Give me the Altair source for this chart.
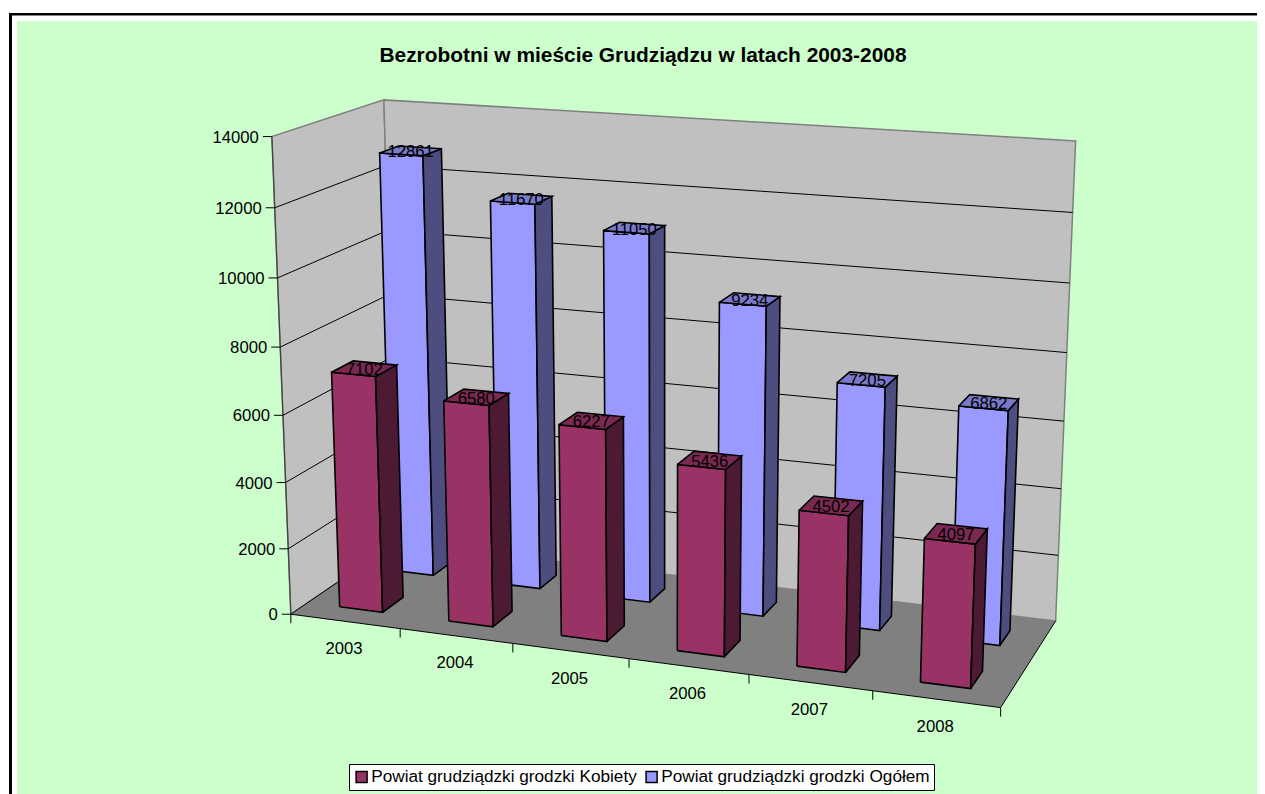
import altair as alt
import numpy as np
import pandas as pd

TITLE = "Bezrobotni w mieście Grudziądzu w latach 2003-2008"
years = ["2003", "2004", "2005", "2006", "2007", "2008"]
kobiety = [7102, 6580, 6227, 5436, 4502, 4097]
ogolem = [12861, 11670, 11050, 9234, 7205, 6862]
series_names = ["Powiat grudziądzki grodzki Kobiety", "Powiat grudziądzki grodzki Ogółem"]
y_ticks = [0, 2000, 4000, 6000, 8000, 10000, 12000, 14000]
Y_MAX = 14000

W, H = 1249, 786
OX, OY = 8, 8
FONT = "Liberation Sans"

# --- 3D camera calibration: (category, depth, value share) -> picture position
calib = [
    ((0, 0, 0), (291, 614)), ((6, 0, 0), (1001, 707)), ((6, 1, 0), (1056, 620)), ((0, 1, 0), (397, 542)),
    ((0, 0, 1), (272, 137)), ((0, 1, 1), (383, 100)), ((6, 1, 1), (1076, 141)),
    ((1, 0, 0), (399, 629)), ((2, 0, 0), (512, 644)), ((3, 0, 0), (630, 660)), ((4, 0, 0), (749, 675)), ((5, 0, 0), (872, 690)),
    ((0, 0, 4/7), (281, 346)), ((0, 0, 2/7), (286, 482)), ((6, 1, 2/7), (1061, 489)), ((6, 1, 1/7), (1058, 556)),
]
A = []
for (a, b, c), (px, py) in calib:
    px, py = px / 1000, py / 1000
    A.append([a, b, c, 1, 0, 0, 0, 0, -px*a, -px*b, -px*c, -px])
    A.append([0, 0, 0, 0, a, b, c, 1, -py*a, -py*b, -py*c, -py])
P = np.linalg.svd(np.array(A, float))[2][-1].reshape(3, 4)


def project(a, b, c):
    r = P @ np.array([a, b, c, 1.0])
    return (1000 * r[0] / r[2], 1000 * r[1] / r[2])


Hf = P[:, [0, 1, 3]]
Hi = np.linalg.inv(Hf)


def unfloor(px, py):
    r = Hi @ np.array([px / 1000, py / 1000, 1.0])
    return r[0] / r[2], r[1] / r[2]


# bar footprint: gaps in category and depth
ku0 = unfloor(339, 607); ku1 = unfloor(382, 612); kb = unfloor(404, 597)
ku2 = unfloor(921, 682); ku3 = unfloor(971, 689); kb2 = unfloor(984, 672)
ou1 = unfloor(433, 575); ob = unfloor(448, 564); ou3 = unfloor(1001, 646); ob2 = unfloor(1012, 629)
gl = (ku0[0] + (ku2[0] - 5)) / 2
gr = (ku1[0] + (ku3[0] - 5) + ou1[0] + (ou3[0] - 5)) / 4
depth = {
    "k": ((ku0[1] + ku1[1] + ku2[1] + ku3[1]) / 4, (kb[1] + kb2[1]) / 2),
    "o": ((ou1[1] + ou3[1]) / 2, (ob[1] + ob2[1]) / 2),
}

rows = []
counter = [0]


def poly(pts, fill="none", stroke="none", sw=0.0, close=True, name=None):
    pid = name or f"p{counter[0]}_{len(rows)}"
    seq = list(pts) + ([pts[0]] if close else [])
    for px, py in seq:
        counter[0] += 1
        rows.append(dict(pid=pid, idx=counter[0], x=px, y=py, fill=fill, stroke=stroke, sw=sw))


BG = "#CCFFCC"
# page frame and chart area
poly([(17, 21), (1265, 21), (1265, 794), (17, 794)], fill=BG)
poly([(9, 13), (1265, 13), (1265, 15.5), (12, 15.5), (12, 794), (9, 794)], fill="#000000")

# floor and walls
GRAY = "#C0C0C0"
EDGE = "#808080"
poly([project(0, 0, 0), project(0, 1, 0), project(0, 1, 1), project(0, 0, 1)], fill=GRAY, stroke=EDGE, sw=1.5)
poly([project(0, 1, 0), project(6, 1, 0), project(6, 1, 1), project(0, 1, 1)], fill=GRAY, stroke=EDGE, sw=1.5)
poly([project(0, 0, 0), project(6, 0, 0), project(6, 1, 0), project(0, 1, 0)], fill=EDGE)
poly([project(0, 1, 0), project(0, 0, 0), project(6, 0, 0), project(6, 1, 0)], stroke="#000000", sw=1, close=False)
poly([project(0, 0, 0), project(0, 0, 1)], stroke="#404040", sw=1.2, close=False)

# gridlines and ticks
for t in y_ticks[1:-1]:
    s = t / Y_MAX
    poly([project(0, 0, s), project(0, 1, s), project(6, 1, s)], stroke="#000000", sw=1, close=False)
for t in y_ticks:
    s = t / Y_MAX
    fx, fy = project(0, 0, s)
    poly([(fx - 9, fy), (fx, fy)], stroke="#000000", sw=1, close=False)
for i in range(7):
    fx, fy = project(i, 0, 0)
    poly([(fx, fy), (fx, fy + 9)], stroke="#000000", sw=1, close=False)


def box(i, key, val, front, side, top):
    u0, u1 = i + gl, i + gr
    v0, v1 = depth[key]
    s = val / Y_MAX
    poly([project(u0, v0, 0), project(u1, v0, 0), project(u1, v0, s), project(u0, v0, s)], fill=front, stroke="#000000", sw=1.6)
    poly([project(u1, v0, 0), project(u1, v1, 0), project(u1, v1, s), project(u1, v0, s)], fill=side, stroke="#000000", sw=1.6)
    poly([project(u0, v0, s), project(u1, v0, s), project(u1, v1, s), project(u0, v1, s)], fill=top, stroke="#000000", sw=1.6)


labels = []
for i, v in enumerate(ogolem):
    box(i, "o", v, "#9999FF", "#4D4D80", "#7A7ACC")
for i, v in enumerate(kobiety):
    box(i, "k", v, "#993366", "#4D1A33", "#7A2952")
for key, vals in (("o", ogolem), ("k", kobiety)):
    v0, v1 = depth[key]
    for i, v in enumerate(vals):
        px, py = project(i + (gl + gr) / 2, (v0 + v1) / 2, v / Y_MAX)
        labels.append(dict(x=px, y=py + 1.5, t=str(v)))

ylab = []
for t in y_ticks:
    px, py = project(0, 0, t / Y_MAX)
    ylab.append(dict(x=px - 13, y=py + 1, t=str(t)))
xlab = []
for i, yr in enumerate(years):
    px, py = project(i + 0.5, 0, 0)
    xlab.append(dict(x=px - 1, y=py + 27.5, t=yr))

polys = pd.DataFrame(rows)
X = alt.X("x:Q", scale=alt.Scale(domain=[OX, OX + W], range=[0, W], nice=False, zero=False), axis=None)
Y = alt.Y("y:Q", scale=alt.Scale(domain=[OY, OY + H], range=[0, H], nice=False, zero=False), axis=None)

dummy = pd.DataFrame({"x": [400, 400], "y": [400, 400], "series": series_names})
legend_layer = alt.Chart(dummy).mark_square(size=1, opacity=1).encode(
    x=X, y=Y,
    color=alt.Color(
        "series:N",
        scale=alt.Scale(domain=series_names, range=["#993366", "#9999FF"]),
        legend=alt.Legend(
            title=None, orient="none", direction="horizontal", columns=2,
            legendX=349 - OX, legendY=764 - OY,
            fillColor="#FFFFFF", strokeColor="#000000", padding=4,
            labelFont=FONT, labelFontSize=17.2, labelColor="#000000", labelLimit=400,
            symbolType="square", symbolSize=121, symbolStrokeColor="#000000", symbolStrokeWidth=1.5,
            labelOffset=1, columnPadding=6,
        ),
    ),
)

shapes = alt.Chart(polys).mark_line(strokeJoin="miter", strokeCap="butt", clip=False).encode(
    x=X, y=Y,
    detail="pid:N",
    order=alt.Order("idx:Q"),
    fill=alt.Fill("fill:N", scale=None, legend=None),
    stroke=alt.Stroke("stroke:N", scale=None, legend=None),
    strokeWidth=alt.StrokeWidth("sw:Q", scale=None, legend=None),
)


def text_layer(data, **kw):
    return alt.Chart(pd.DataFrame(data)).mark_text(font=FONT, fontSize=16.7, color="#000000", **kw).encode(x=X, y=Y, text="t:N")


chart = alt.layer(
    legend_layer,
    shapes,
    text_layer(ylab, align="right", baseline="middle"),
    text_layer(xlab, align="center", baseline="middle"),
    text_layer(labels, align="center", baseline="middle"),
).resolve_scale(color="independent", fill="independent", stroke="independent").properties(
    width=W, height=H,
    padding=0,
    autosize=alt.AutoSizeParams(type="none"),
    background="#FFFFFF",
    title=alt.TitleParams(TITLE, font=FONT, fontSize=20.9, fontWeight="bold", color="#000000",
                          anchor="middle", frame="group", offset=-58, dx=10.5),
).configure_view(stroke=None)

chart.save("out.html", embed_options={"renderer": "svg", "actions": False})
